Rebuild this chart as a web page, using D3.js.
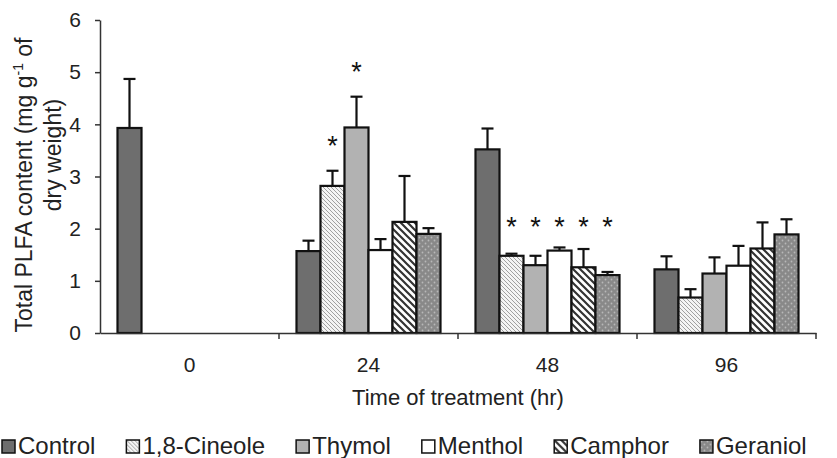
<!DOCTYPE html>
<html>
<head>
<meta charset="utf-8">
<script src="https://cdn.jsdelivr.net/npm/d3@7"></script>
<style>
    html, body { margin: 0; padding: 0; background: #fff; }
    svg { display: block; font-family: "Liberation Sans", Arial, sans-serif; }
    .axis path, .axis line { stroke: #333; stroke-width: 1.5; }
    .axis text { fill: #222; }
</style>
</head>
<body>
<div id="chart"></div>
<script>

// time points (hr)
var times = ['0', '24', '48', '96'];
var treatments = ['Control', '1,8-Cineole', 'Thymol', 'Menthol', 'Camphor', 'Geraniol'];

// mean total PLFA (mg g-1 dry weight), one value per time point
var control  = [3.93, 1.57, 3.52, 1.22];
var cineole  = [null, 2.82, 1.48, 0.68];
var thymol   = [null, 3.94, 1.30, 1.14];
var menthol  = [null, 1.59, 1.58, 1.29];
var camphor  = [null, 2.13, 1.26, 1.62];
var geraniol = [null, 1.90, 1.11, 1.89];

// upper error bars
var controlErr  = [0.94, 0.20, 0.40, 0.25];
var cineoleErr  = [null, 0.29, 0.04, 0.16];
var thymolErr   = [null, 0.59, 0.18, 0.31];
var mentholErr  = [null, 0.21, 0.06, 0.38];
var camphorErr  = [null, 0.88, 0.35, 0.50];
var geraniolErr = [null, 0.11, 0.06, 0.29];

// significance marks: time, treatment, height of the asterisk
var starTimes = ['24', '24', '48', '48', '48', '48', '48'];
var starTreatments = ['1,8-Cineole', 'Thymol', '1,8-Cineole', 'Thymol', 'Menthol', 'Camphor', 'Geraniol'];
var starLevels = [3.70, 5.12, 2.15, 2.15, 2.15, 2.15, 2.15];

var yTicks = [0, 1, 2, 3, 4, 5, 6];


class GroupedBarChart {

    constructor() {

        this._width = 837;
        this._height = 458;

        this._margin = { left: 100, top: 20, right: 21, bottom: 125 };
        this._barWidth = 24;

        this._series = [
            { name: 'Control',     values: control,  err: controlErr,  fill: '#6e6e6e' },
            { name: '1,8-Cineole', values: cineole,  err: cineoleErr,  fill: 'url(#hatch-fine)' },
            { name: 'Thymol',      values: thymol,   err: thymolErr,   fill: '#b2b2b2' },
            { name: 'Menthol',     values: menthol,  err: mentholErr,  fill: '#ffffff' },
            { name: 'Camphor',     values: camphor,  err: camphorErr,  fill: 'url(#hatch-bold)' },
            { name: 'Geraniol',    values: geraniol, err: geraniolErr, fill: 'url(#dots)' }
        ];
    }


    renderTo(selector) {

        var innerW = this._width - this._margin.left - this._margin.right;
        var innerH = this._height - this._margin.top - this._margin.bottom;

        var svg = d3.select(selector).append('svg')
            .attr('width', this._width)
            .attr('height', this._height);

        this._addPatterns(svg.append('defs'));

        var canvas = svg.append('g')
            .attr('transform', 'translate(' + [this._margin.left, this._margin.top] + ')');

        var x0 = d3.scaleBand().domain(times).range([0, innerW]);
        var pad = (x0.bandwidth() - this._barWidth * treatments.length) / 2;
        var x1 = d3.scaleBand().domain(treatments).range([pad, x0.bandwidth() - pad]);
        var y = d3.scaleLinear().domain([0, 6]).range([innerH, 0]);

        // y axis
        var yAxis = canvas.append('g')
            .attr('class', 'axis y-axis')
            .call(d3.axisLeft(y).tickValues(yTicks).tickFormat(d3.format('d'))
                .tickSize(5).tickSizeOuter(0).tickPadding(14));
        yAxis.selectAll('text').style('font-size', '21px');

        // bars
        var bars = [];
        this._series.forEach(function(s) {
            s.values.forEach(function(v, i) {
                if (v === null) return;
                bars.push({ time: times[i], name: s.name, value: v, err: s.err[i], fill: s.fill });
            });
        });

        var bw = x1.bandwidth();

        canvas.selectAll('rect.bar')
            .data(bars)
            .enter()
            .append('rect')
            .attr('class', 'bar')
            .attr('x', d => x0(d.time) + x1(d.name))
            .attr('y', d => y(d.value))
            .attr('width', bw)
            .attr('height', d => y(0) - y(d.value))
            .style('fill', d => d.fill)
            .style('stroke', '#111')
            .style('stroke-width', 2.2);

        var errs = canvas.selectAll('g.err')
            .data(bars)
            .enter()
            .append('g')
            .attr('class', 'err')
            .style('stroke', '#111')
            .style('stroke-width', 2.2);

        errs.append('line')
            .attr('x1', d => x0(d.time) + x1(d.name) + bw / 2)
            .attr('x2', d => x0(d.time) + x1(d.name) + bw / 2)
            .attr('y1', d => y(d.value))
            .attr('y2', d => y(d.value + d.err));

        errs.append('line')
            .attr('x1', d => x0(d.time) + x1(d.name) + bw / 2 - 6)
            .attr('x2', d => x0(d.time) + x1(d.name) + bw / 2 + 6)
            .attr('y1', d => y(d.value + d.err))
            .attr('y2', d => y(d.value + d.err));

        // asterisks
        canvas.selectAll('text.star')
            .data(starLevels)
            .enter()
            .append('text')
            .attr('class', 'star')
            .attr('x', (d, i) => x0(starTimes[i]) + x1(starTreatments[i]) + bw / 2)
            .attr('y', d => y(d) + 15)
            .attr('text-anchor', 'middle')
            .style('font-size', '27px')
            .style('fill', '#111')
            .text('*');

        // x axis
        var xAxis = canvas.append('g')
            .attr('class', 'axis x-axis')
            .attr('transform', 'translate(0,' + innerH + ')')
            .call(d3.axisBottom(x0).tickSize(0).tickPadding(24));
        xAxis.selectAll('text').style('font-size', '21px');

        xAxis.selectAll('line.sep')
            .data(times)
            .enter()
            .append('line')
            .attr('class', 'sep')
            .attr('x1', d => x0(d) + x0.bandwidth())
            .attr('x2', d => x0(d) + x0.bandwidth())
            .attr('y1', 0)
            .attr('y2', 6);

        // axis titles
        svg.append('text')
            .attr('x', this._margin.left + innerW / 2)
            .attr('y', 405)
            .attr('text-anchor', 'middle')
            .style('font-size', '22px')
            .style('fill', '#222')
            .text('Time of treatment (hr)');

        var t1 = svg.append('text')
            .attr('transform', 'translate(32,185) rotate(-90)')
            .attr('text-anchor', 'middle')
            .style('font-size', '23px')
            .style('fill', '#222');
        t1.append('tspan').text('Total PLFA content (mg g');
        t1.append('tspan').attr('dy', -9).style('font-size', '14px').text('-1');
        t1.append('tspan').attr('dy', 9).text(' of');

        svg.append('text')
            .attr('transform', 'translate(61,155) rotate(-90)')
            .attr('text-anchor', 'middle')
            .style('font-size', '23px')
            .style('fill', '#222')
            .text('dry weight)');

        this._renderLegend(svg);

        return this;
    }


    _renderLegend(svg) {

        var legend = svg.append('g')
            .attr('class', 'legend')
            .attr('transform', 'translate(2,440)');

        var cursor = 0;
        this._series.forEach(function(s) {
            var item = legend.append('g')
                .attr('transform', 'translate(' + cursor + ',0)');

            item.append('rect')
                .attr('width', 13)
                .attr('height', 13)
                .style('fill', s.fill)
                .style('stroke', '#111')
                .style('stroke-width', 1.5);

            var label = item.append('text')
                .attr('x', 16)
                .attr('y', 14)
                .style('font-size', '24px')
                .style('fill', '#222')
                .text(s.name);

            cursor += 16 + label.node().getComputedTextLength() + 31;
        });
    }


    _addPatterns(defs) {

        var fine = defs.append('pattern')
            .attr('id', 'hatch-fine')
            .attr('patternUnits', 'userSpaceOnUse')
            .attr('width', 4)
            .attr('height', 4);
        fine.append('rect').attr('width', 4).attr('height', 4).style('fill', '#f4f4f4');
        fine.append('path')
            .attr('d', 'M-1,-1 L5,5 M-1,3 L1,5 M3,-1 L5,1')
            .style('stroke', '#8a8a8a')
            .style('stroke-width', 0.8);

        var bold = defs.append('pattern')
            .attr('id', 'hatch-bold')
            .attr('patternUnits', 'userSpaceOnUse')
            .attr('width', 7)
            .attr('height', 7);
        bold.append('rect').attr('width', 7).attr('height', 7).style('fill', '#fff');
        bold.append('path')
            .attr('d', 'M-1,-1 L8,8 M-1,6 L1,8 M6,-1 L8,1')
            .style('stroke', '#333')
            .style('stroke-width', 2.2);

        var dots = defs.append('pattern')
            .attr('id', 'dots')
            .attr('patternUnits', 'userSpaceOnUse')
            .attr('width', 6)
            .attr('height', 6);
        dots.append('rect').attr('width', 6).attr('height', 6).style('fill', '#898989');
        dots.append('circle').attr('cx', 1.5).attr('cy', 1.5).attr('r', 0.9).style('fill', '#b8b8b8');
        dots.append('circle').attr('cx', 4.5).attr('cy', 4.5).attr('r', 0.9).style('fill', '#b8b8b8');
    }
}


new GroupedBarChart().renderTo('#chart');

</script>
</body>
</html>
